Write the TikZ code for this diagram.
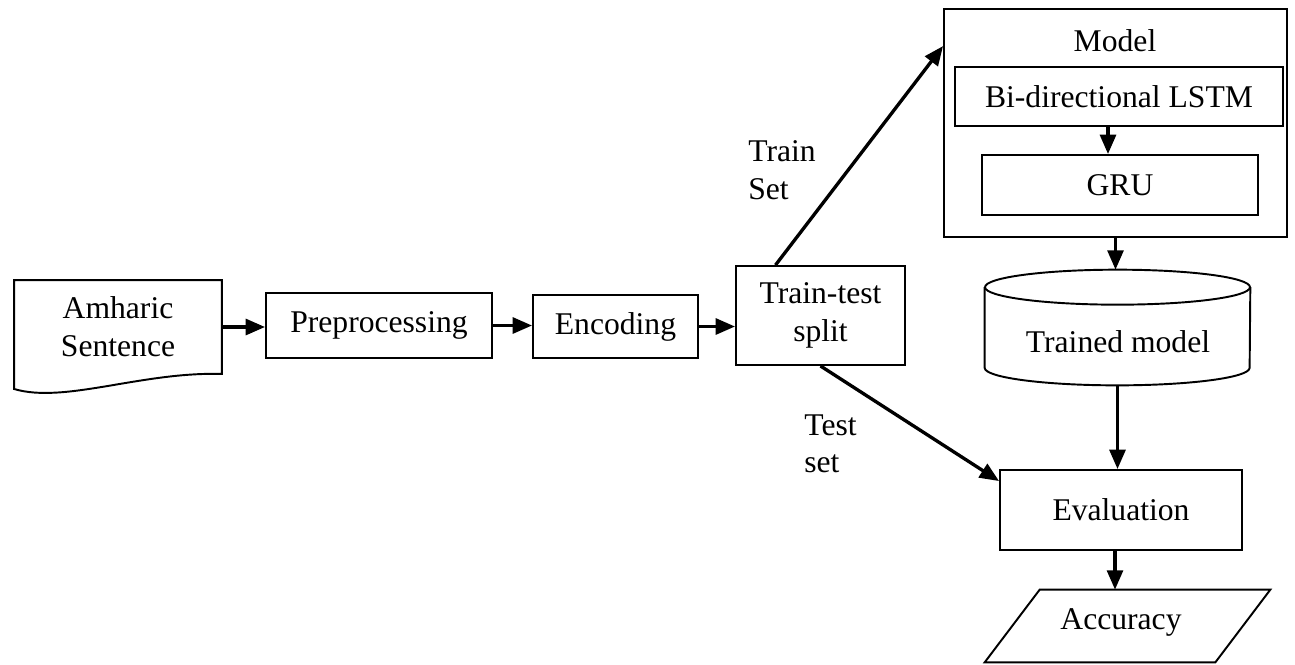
\documentclass[tikz,border=0pt]{standalone}
\usepackage{fontspec}
\setmainfont{Liberation Serif}
\usetikzlibrary{arrows.meta, calc}
\tikzset{
    every node/.style={font=\fontsize{18}{21.5}\selectfont},
    block/.style={draw, line width=1.1pt, inner sep=0pt, align=center},
    flow/.style={-{Triangle[length=11pt, width=9pt]}, line width=1.9pt},
}

\begin{document}
\begin{tikzpicture}[x=0.02cm, y=-0.02cm]
    \useasboundingbox (0, 0) rectangle (1295, 664);
    % pipeline
    \node[block, draw=none, minimum width=4.12cm, minimum height=1.84cm] (doc)
        at (118, 327) {Amharic\\Sentence};
    \draw[line width=1.1pt] (doc.north west) -- (doc.north east) -- (doc.south east)
        .. controls +(-1.6cm, 0.05cm) and +(1cm, -0.3cm) .. ([yshift=-0.3cm]doc.south west)
        -- cycle;
    \node[block, minimum width=4.52cm, minimum height=1.3cm] (pre)
        at (379, 325.5) {Preprocessing};
    \node[block, minimum width=3.3cm, minimum height=1.26cm] (enc)
        at (615.5, 326.5) {Encoding};
    \node[block, minimum width=3.38cm, minimum height=1.98cm] (split)
        at (820.5, 315.5) {Train-test\\split};
    % model
    \node[block, minimum width=6.86cm, minimum height=4.56cm] (model) at (1115.5, 123) {};
    \node (mtitle) at (1115, 41) {Model};
    \node[block, minimum width=6.56cm, minimum height=1.18cm] (lstm)
        at (1119, 96.5) {Bi-directional LSTM};
    \node[block, minimum width=5.52cm, minimum height=1.2cm] (gru) at (1120, 185) {GRU};
    % trained model store
    \node[minimum width=5.3cm, minimum height=2.3cm] (trained) at (1117.5, 327.5) {};
    \draw[line width=1.1pt] ($(trained.north)+(0, 17.5)$)
        ellipse [x radius=2.65cm, y radius=0.35cm];
    \draw[line width=1.1pt] ([yshift=-0.35cm]trained.north west)
        -- ([yshift=0.35cm]trained.south west)
        arc[start angle=180, end angle=360, x radius=2.65cm, y radius=0.35cm]
        -- ([yshift=-0.35cm]trained.north east);
    \node (tlabel) at (1118, 342) {Trained model};
    \node[block, minimum width=4.84cm, minimum height=1.6cm] (eval) at (1121, 510) {Evaluation};
    \node[minimum width=4.6cm, minimum height=1.44cm] (acc) at (1127.5, 626) {};
    \draw[line width=1.1pt] ([xshift=0.55cm]acc.north west) -- ([xshift=0.55cm]acc.north east)
        -- ([xshift=-0.55cm]acc.south east) -- ([xshift=-0.55cm]acc.south west) -- cycle;
    \node (acclbl) at (1121, 622) {Accuracy};
    % labels
    \node[anchor=north west, align=left, inner sep=0pt] (trainlbl) at (748, 140) {Train\\Set};
    \node[anchor=north west, align=left, inner sep=0pt] (testlbl) at (804, 414) {Test\\set};
    % connectors
    \draw[flow] (doc.east) -- (doc.east -| pre.west);
    \draw[flow] (pre.east) -- (pre.east -| enc.west);
    \draw[flow] (enc.east) -- (enc.east -| split.west);
    \draw[flow] ([xshift=-0.9cm]split.north) -- ([yshift=-0.76cm]model.north west);
    \draw[flow] (split.south) -- ([yshift=-0.24cm]eval.north west);
    \draw[flow] ([xshift=-0.22cm]lstm.south) -- ([xshift=-0.22cm]lstm.south |- gru.north);
    \draw[flow] (model.south) -- (model.south |- trained.north);
    \draw[flow] (trained.south) -- (trained.south |- eval.north);
    \draw[flow] ([xshift=-0.12cm]eval.south) -- ([xshift=-0.12cm]eval.south |- acc.north);
\end{tikzpicture}
\end{document}
